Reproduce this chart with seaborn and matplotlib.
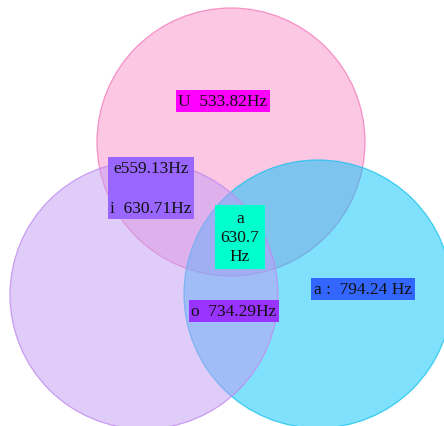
import matplotlib
matplotlib.use('Agg')
import matplotlib.pyplot as plt
import seaborn as sns
from matplotlib.patches import Circle

# circles (pixel space, y downwards), in drawing order
circle_names = ['pink', 'cyan', 'purple']
circle_x = [231, 318, 144]
circle_y = [143, 295, 296]
circle_r = [134, 134, 134]
circle_fill = ['#F991C9', '#00C5F9', '#C39BF5']
circle_edge = ['#F47CBB', '#1CC3EE', '#C08AF0']

# labels
labels = ['U  533.82Hz', 'e559.13Hz\n\ni  630.71Hz', 'a\n630.7\nHz', 'o  734.29Hz', 'a :  794.24 Hz']
label_x = [223, 151, 240, 234, 363]
label_y = [102, 189, 238, 312, 290]
label_bg = ['#FF00FF', '#9966FF', '#00FFCC', '#9933FF', '#3366FF']
label_ls = [1.2, 1.33, 1.22, 1.2, 1.2]
label_pad = [0.15, 0.15, 0.3, 0.15, 0.15]

sns.set_style('white')
plt.rcParams['font.family'] = ['Liberation Serif', 'DejaVu Serif']

fig = plt.figure(figsize=(4.44, 4.27), dpi=100)
ax = fig.add_axes([0, 0, 1, 1])
ax.set_xlim(0, 444)
ax.set_ylim(427, 0)
ax.set_aspect('equal')
ax.axis('off')

for x, y, r, fc, ec in zip(circle_x, circle_y, circle_r, circle_fill, circle_edge):
    ax.add_patch(Circle((x, y), r, facecolor=fc, alpha=0.5, edgecolor='none'))
    ax.add_patch(Circle((x, y), r, facecolor='none', edgecolor=ec, lw=0.9, alpha=0.8))

for txt, x, y, bg, ls, pad in zip(labels, label_x, label_y, label_bg, label_ls, label_pad):
    ax.text(x, y, txt, ha='center', va='center', fontsize=12.5, color='#111111',
            linespacing=ls, multialignment='center',
            bbox=dict(boxstyle='square,pad=%s' % pad, facecolor=bg, edgecolor='none'))

fig.savefig('out.png', dpi=100)
